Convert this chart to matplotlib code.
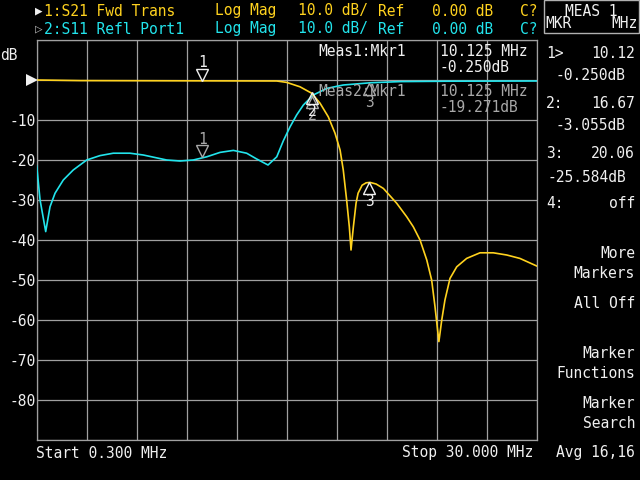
import matplotlib
matplotlib.use("Agg")
from matplotlib import pyplot as plt
from matplotlib import transforms
import numpy as np

# S21 Fwd Trans (MHz, dB)
f21 = [0.30, 2.90, 14.56, 15.15, 15.94, 16.63, 17.13, 17.62, 18.02, 18.32,
       18.51, 18.71, 18.87, 18.97, 19.11, 19.27, 19.39, 19.63, 19.87, 20.10,
       20.46, 20.89, 21.68, 22.28, 22.67, 23.07, 23.47, 23.76, 23.96, 24.19,
       24.36, 24.55, 24.85, 25.25, 25.84, 26.63, 27.42, 28.22, 29.00, 30.00]
s21 = [0.0, -0.15, -0.25, -0.6, -1.7, -3.3, -5.8, -9.2, -13.3, -17.5,
       -22.5, -30.0, -36.7, -42.5, -36.7, -30.8, -28.3, -26.3, -25.7, -25.6,
       -26.0, -27.1, -30.8, -34.2, -36.7, -40.0, -45.0, -50.0, -56.7, -65.4,
       -60.0, -55.0, -49.6, -46.7, -44.6, -43.2, -43.2, -43.75, -44.6, -46.5]

# S11 Refl Port1
f11 = [0.30, 0.50, 0.835, 1.09, 1.39, 1.88, 2.47, 3.27, 4.06, 4.85,
       5.84, 6.63, 8.02, 8.81, 9.60, 10.40, 11.19, 11.98, 12.77, 13.37,
       14.04, 14.56, 14.95, 15.35, 15.74, 16.14, 16.73, 17.53, 18.51, 20.10,
       21.88, 24.85, 30.00]
s11 = [-21.5, -30.0, -37.9, -31.7, -28.3, -25.0, -22.5, -20.0, -18.9, -18.3,
       -18.3, -18.75, -20.0, -20.25, -20.0, -19.2, -18.1, -17.6, -18.3, -19.75,
       -21.25, -19.2, -15.2, -11.7, -8.75, -6.25, -3.75, -2.1, -1.25, -0.7,
       -0.4, -0.3, -0.25]

# markers
mkr_f = [10.125, 16.67, 20.06]
mkr_s21 = [-0.25, -3.055, -25.584]
mkr_s11 = [-19.271, -4.0, -0.75]
mkr_names = ["1", "2", "3"]

yticks = list(range(-90, 11, 10))
ylabels = [str(v) if -80 <= v <= -10 else "" for v in yticks]

yel = "#FFD21E"
cyn = "#22E4EC"
grid_c = "#A0A0A0"
grey = "#A8A8A8"
white = "#F0F0F0"
mono = "DejaVu Sans Mono"
fs = 10.5

fig = plt.figure(figsize=(6.4, 4.8), dpi=100, facecolor="black")
ax = fig.add_axes([36.7 / 640, 40 / 480, 500 / 640, 400 / 480])
ax.set_facecolor("black")
ax.set_xlim(0.3, 30.0)
ax.set_ylim(-90, 10)
ax.set_xticks(np.linspace(0.3, 30.0, 11))
ax.set_xticklabels([])
ax.set_yticks(yticks)
ax.set_yticklabels(ylabels, fontfamily=mono, fontsize=fs, color=white)
ax.tick_params(length=0, pad=1)
ax.grid(True, color=grid_c, lw=0.9)
for s in ax.spines.values():
    s.set_color(grid_c)
    s.set_linewidth(0.9)

ax.plot(f11, s11, color=cyn, lw=1.2, zorder=3)
ax.plot(f21, s21, color=yel, lw=1.2, zorder=4)

# marker triangles: down for 1, up for 2 and 3
for i, (f, a, b, n) in enumerate(zip(mkr_f, mkr_s21, mkr_s11, mkr_names)):
    for val, col in [(b, grey), (a, white)]:
        if i == 0:
            ax.plot(f, val + 1.5, marker="v", ms=8.6, mfc="none", mec=col,
                    mew=1.0, zorder=5)
            ax.text(f, val + 4.5, n, color=col, fontfamily=mono, fontsize=fs,
                    ha="center", va="center", zorder=5)
        else:
            ax.plot(f, val - 1.5, marker="^", ms=8.6, mfc="none", mec=col,
                    mew=1.0, zorder=5)
            ax.text(f, val - 4.8, n, color=col, fontfamily=mono, fontsize=fs,
                    ha="center", va="center", zorder=5)


def px(x, y, s, c=white, ha="left", size=fs):
    fig.text(x / 640, 1 - y / 480, s, color=c, fontfamily=mono, fontsize=size,
             ha=ha, va="center")


# marker readouts inside the grid
px(318, 52, "Meas1:Mkr1")
px(440, 52, "10.125 MHz")
px(440, 68, "-0.250dB")
px(318, 92, "Meas2:Mkr1", c=grey)
px(440, 92, "10.125 MHz", c=grey)
px(440, 108, "-19.271dB", c=grey)

# header
px(35, 11, "\u25b6", c=white, size=9)
px(44, 11, "1:S21 Fwd Trans", c=yel)
px(35, 29, "\u25b7", c=grey, size=9)
px(44, 29, "2:S11 Refl Port1", c=cyn)
for y, c in [(11, yel), (29, cyn)]:
    px(215, y, "Log Mag", c=c)
    px(298, y, "10.0 dB/", c=c)
    px(378, y, "Ref", c=c)
    px(432, y, "0.00 dB", c=c)
    px(520, y, "C?", c=c)

# y axis extras
px(0, 55, "dB")
ref = ax.plot(0.3, 0, marker=">", ms=9, color=white, mew=0, clip_on=False,
              zorder=6)[0]
ref.set_transform(ax.transData +
                  transforms.ScaledTranslation(-0.05, 0, fig.dpi_scale_trans))

# footer
px(36, 453, "Start 0.300 MHz")
px(533, 453, "Stop 30.000 MHz", ha="right")

# right panel
fig.patches.append(plt.Rectangle((544 / 640, 1 - 33 / 480), 95 / 640, 33 / 480,
                                 transform=fig.transFigure, fill=False,
                                 ec="#B0B0B0", lw=1.0))
px(591, 11, "MEAS 1", ha="center")
px(545, 23, "MKR")
px(638, 23, "MHz", ha="right")
rows = [(53, "1>", "10.12"), (104, "2:", "16.67"), (154, "3:", "20.06"),
        (204, "4:", "off")]
for y, a, b in rows:
    px(546, y, a)
    px(635, y, b, ha="right")
px(626, 76, "-0.250dB", ha="right")
px(626, 126, "-3.055dB", ha="right")
px(626, 177, "-25.584dB", ha="right")
for y, s in [(254, "More"), (273, "Markers"), (304, "All Off"),
             (354, "Marker"), (373, "Functions"), (404, "Marker"),
             (423, "Search"), (453, "Avg 16,16")]:
    px(635, y, s, ha="right")

fig.savefig("out.png", dpi=100, facecolor="black")
